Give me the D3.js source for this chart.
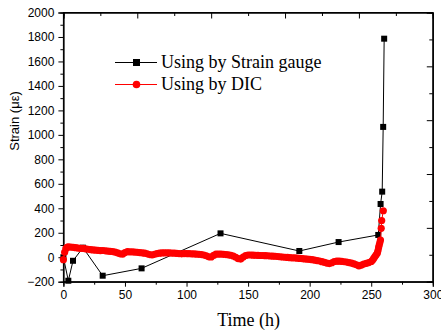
<!DOCTYPE html>
<html>
<head>
<meta charset="utf-8">
<script src="https://cdn.jsdelivr.net/npm/d3@7"></script>
<style>
  html, body { margin: 0; padding: 0; background: #fff; }
  svg { display: block; }
</style>
</head>
<body>
<div id="chart"></div>
<script>
// Strain gauge readings: time (h) and strain (με)
const gaugeTime   = [0, 4, 7.8, 15.9, 31.9, 63.5, 127.6, 191.6, 223.5, 255.7, 257.6, 258.9, 259.7, 260.5];
const gaugeStrain = [0, -192, -29, 78, -151, -91, 195, 51, 124, 182, 435, 536, 1065, 1786];

// DIC readings: time (h) and strain (με)
const dicTime = [0, 1, 2, 3, 4, 6, 8, 10, 12, 14, 16, 18, 20, 22, 24, 26, 28, 30, 32, 34, 36, 38, 40,
  42, 44, 46, 48, 50, 52, 54, 56, 58, 60, 62, 64, 66, 68, 70, 72, 74, 76, 78, 80, 82, 84, 86, 88, 90,
  92, 94, 96, 98, 100, 102, 104, 106, 108, 110, 112, 114, 116, 118, 120, 122, 124, 126, 128, 130, 132,
  134, 136, 138, 140, 142, 144, 146, 148, 150, 152, 154, 156, 158, 160, 162, 164, 166, 168, 170, 172,
  174, 176, 178, 180, 182, 184, 186, 188, 190, 192, 194, 196, 198, 200, 202, 204, 206, 208, 210, 212,
  214, 216, 218, 220, 222, 224, 226, 228, 230, 232, 234, 236, 238, 240, 242, 244, 246, 248, 250, 251,
  252, 253, 254, 255, 255.5, 256, 256.5, 257, 257.5, 258.1, 258.5, 259.8];
const dicStrain = [-20, 40, 70, 80, 85, 83, 80, 78, 75, 73, 72, 68, 65, 62, 60, 58, 56, 54, 55, 52, 50, 48, 46,
  42, 36, 28, 25, 38, 45, 44, 43, 42, 40, 38, 36, 33, 28, 22, 18, 24, 30, 33, 35, 36, 36, 35, 34, 33,
  32, 30, 28, 30, 30, 29, 28, 27, 26, 24, 22, 18, 12, 3, 2, 15, 25, 26, 25, 24, 22,
  20, 16, 10, 0, -12, -15, 2, 14, 18, 18, 17, 16, 15, 14, 14, 13, 12, 10, 9, 8,
  6, 4, 2, 0, -2, -4, -5, -6, -8, -10, -12, -14, -16, -18, -20, -23, -27, -31, -36, -42,
  -48, -52, -45, -35, -32, -32, -34, -37, -40, -44, -48, -55, -62, -70, -64, -56, -50, -44, -35, -25,
  -10, 5, 20, 35, 55, 80, 100, 120, 140, 236, 300, 380];

const xTicks = [0, 50, 100, 150, 200, 250, 300];
const yTicks = [-200, 0, 200, 400, 600, 800, 1000, 1200, 1400, 1600, 1800, 2000];
const seriesNames = ["Using by Strain gauge", "Using by DIC"];

const W = 441, H = 336;
const plotLeft = 63.4, plotRight = 432.8, plotTop = 12.5, plotBottom = 281.7;

const svg = d3.select("#chart").append("svg").attr("width", W).attr("height", H);

const x = d3.scaleLinear().domain([0, 300]).range([plotLeft, plotRight]);
const y = d3.scaleLinear().domain([-200, 2000]).range([plotBottom, plotTop]);

const tickFont = "'Liberation Sans', Arial, sans-serif";
const serif = "'Liberation Serif', 'Times New Roman', serif";

// bottom axis: majors labelled, minors halfway
const gx = svg.append("g").attr("transform", `translate(0,${plotBottom})`);
gx.call(d3.axisBottom(x).tickValues(xTicks).tickSize(5).tickPadding(4).tickFormat(d3.format("d")));
gx.append("g").call(d3.axisBottom(x).tickValues(d3.range(25, 300, 50)).tickSize(3).tickFormat(""));

// left axis
const gy = svg.append("g").attr("transform", `translate(${plotLeft},0)`);
gy.call(d3.axisLeft(y).tickValues(yTicks).tickSize(5).tickPadding(4).tickFormat(d3.format("d")));
gy.append("g").call(d3.axisLeft(y).tickValues(d3.range(-100, 2000, 200)).tickSize(3).tickFormat(""));

// mirrored top and right axes with inward ticks
const xt = d3.scaleLinear().domain([0, 10]).range([plotLeft, plotRight]);
const yr = d3.scaleLinear().domain([0, 10]).range([plotBottom, plotTop]);
const gt = svg.append("g").attr("transform", `translate(0,${plotTop})`);
gt.call(d3.axisBottom(xt).tickValues([0, 2, 4, 6, 8, 10]).tickSize(6).tickFormat(""));
gt.append("g").call(d3.axisBottom(xt).tickValues([1, 3, 5, 7, 9]).tickSize(3.5).tickFormat(""));
const gr = svg.append("g").attr("transform", `translate(${plotRight},0)`);
gr.call(d3.axisLeft(yr).tickValues([0, 2, 4, 6, 8, 10]).tickSize(6).tickFormat(""));
gr.append("g").call(d3.axisLeft(yr).tickValues([1, 3, 5, 7, 9]).tickSize(3.5).tickFormat(""));

svg.selectAll(".domain").attr("stroke", "#000").attr("stroke-width", 1);
svg.selectAll(".tick line").attr("stroke", "#000").attr("stroke-width", 1);
svg.selectAll(".tick text").attr("font-family", tickFont).attr("font-size", 12).attr("fill", "#000");

// frame
svg.append("rect").attr("x", plotLeft).attr("y", plotTop)
  .attr("width", plotRight - plotLeft).attr("height", plotBottom - plotTop)
  .attr("fill", "none").attr("stroke", "#000").attr("stroke-width", 1);

// axis titles
svg.append("text").attr("x", (plotLeft + plotRight) / 2 + 0.5).attr("y", 326)
  .attr("text-anchor", "middle").attr("font-family", serif).attr("font-size", 18).text("Time (h)");
svg.append("text").attr("transform", "translate(19,121) rotate(-90)")
  .attr("text-anchor", "middle").attr("font-family", tickFont).attr("font-size", 13).text("Strain (με)");

const gauge = gaugeTime.map((t, i) => [t, gaugeStrain[i]]);
const dic = dicTime.map((t, i) => [t, dicStrain[i]]);
const line = d3.line().x(d => x(d[0])).y(d => y(d[1]));

const plot = svg.append("g");

// strain gauge series
plot.append("path").datum(gauge).attr("d", line).attr("fill", "none").attr("stroke", "#000").attr("stroke-width", 1);
plot.selectAll(".sq").data(gauge).join("rect").attr("class", "sq")
  .attr("x", d => x(d[0]) - 3).attr("y", d => y(d[1]) - 3).attr("width", 6).attr("height", 6).attr("fill", "#000");

// DIC series
plot.append("path").datum(dic).attr("d", line).attr("fill", "none").attr("stroke", "#f00").attr("stroke-width", 1);
plot.selectAll(".dot").data(dic).join("circle").attr("class", "dot")
  .attr("cx", d => x(d[0])).attr("cy", d => y(d[1])).attr("r", 3.6).attr("fill", "#f00");

// legend
const legend = svg.append("g");
const ly = [62.5, 84.5];
const colors = ["#000", "#f00"];
seriesNames.forEach((name, i) => {
  legend.append("line").attr("x1", 115).attr("x2", 157).attr("y1", ly[i]).attr("y2", ly[i])
    .attr("stroke", colors[i]).attr("stroke-width", 1);
  if (i === 0) {
    legend.append("rect").attr("x", 133).attr("y", ly[i] - 3.5).attr("width", 7).attr("height", 7).attr("fill", "#000");
  } else {
    legend.append("circle").attr("cx", 136.5).attr("cy", ly[i]).attr("r", 3.8).attr("fill", "#f00");
  }
  legend.append("text").attr("x", 161).attr("y", ly[i] + 5.5)
    .attr("font-family", serif).attr("font-size", 18).text(name);
});
</script>
</body>
</html>
